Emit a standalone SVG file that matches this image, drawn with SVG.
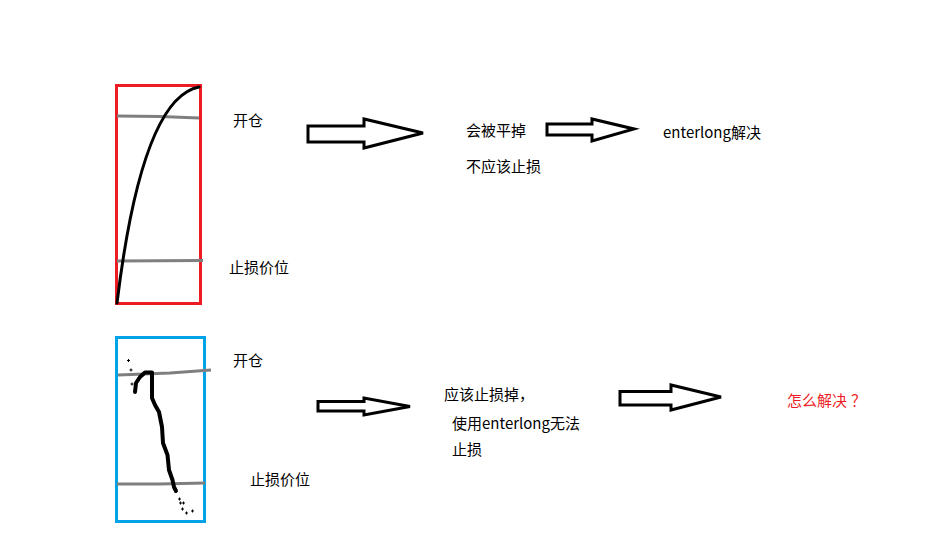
<svg xmlns="http://www.w3.org/2000/svg" width="943" height="533" viewBox="0 0 943 533">
<style>
.t{font-family:"Noto Sans CJK SC","Liberation Sans",sans-serif;font-size:15px;fill:#000}
.r{fill:#ed1c24}
.g{stroke:#7f7f7f;stroke-width:3;fill:none}
.c{stroke:#000;stroke-width:3;fill:none;stroke-linejoin:round;stroke-linecap:round}
.c4{stroke-width:4}
.a{fill:#fff;stroke:#000;stroke-width:3;stroke-linejoin:miter}
.d{stroke:#000;stroke-width:1;fill:none}
</style>
<rect width="943" height="533" fill="#fff"/>
<g id="chart-top">
<rect x="116.5" y="85.5" width="84" height="218" fill="none" stroke="#ed1c24" stroke-width="3"/>
<path class="g" d="M117,116 L160,116.5 L199,118"/>
<path class="g" d="M117,261 L203,260.5"/>
<path class="c" d="M117,303 Q142,98 199,87"/>
</g>
<g id="chart-bottom">
<rect x="116.5" y="337.5" width="88" height="184" fill="none" stroke="#00a2e8" stroke-width="3"/>
<path class="g" d="M118,375 L170,373 L211,370"/>
<path class="g" d="M117,484 L160,484 L205,483"/>
<path class="c c4" d="M135,392 L136,383 L140,377 L145,372.5 L152,372.5 L152,398 L155,405 L159,412 L162,427 L163,443 L167.5,455 L169,470 L172.5,480 L174,487 L176,491"/>
<path class="d" d="M127,360.5h3M128.5,359v3M129.5,370h3M131,368.5v3M130.5,384h3M132,382.5v3M178,499h3M179.5,497.5v3M179,503h3M180.5,501.5v3M182,503h3M183.5,501.5v3M181,509h3M182.5,507.5v3M185,513h3M186.5,511.5v3M191,511h3M192.5,509.5v3"/>
</g>
<g id="labels-top">
<text class="t" x="233" y="126">开仓</text>
<text class="t" x="229" y="273">止损价位</text>
</g>
<g id="labels-bottom">
<text class="t" x="233" y="366">开仓</text>
<text class="t" x="250" y="485">止损价位</text>
</g>
<g id="connectors">
<path class="a" d="M308,126 L364,126 L364,119 L423,133 L364,148 L364,142 L308,142 Z"/>
<path class="a" d="M547,124 L592,124 L592,119 L634,129 L592,141 L592,135 L547,135 Z"/>
<path class="a" d="M318,401.5 L364,401.5 L364,398 L410,406.5 L364,415 L364,411 L318,411 Z"/>
<path class="a" d="M620,391.5 L671,391.5 L671,385 L721,397 L671,410 L671,405 L620,405 Z"/>
</g>
<g id="node-result-top">
<text class="t" x="466" y="136">会被平掉</text>
<text class="t" x="466" y="172">不应该止损</text>
</g>
<g id="node-solution-top">
<text class="t" x="663" y="138">enterlong解决</text>
</g>
<g id="node-result-bottom">
<text class="t" x="444" y="400">应该止损掉，</text>
<text class="t" x="452" y="429">使用enterlong无法</text>
<text class="t" x="452" y="455">止损</text>
</g>
<g id="node-question">
<text class="t r" x="787" y="406">怎么解决<tspan dx="4">？</tspan></text>
</g>
</svg>
